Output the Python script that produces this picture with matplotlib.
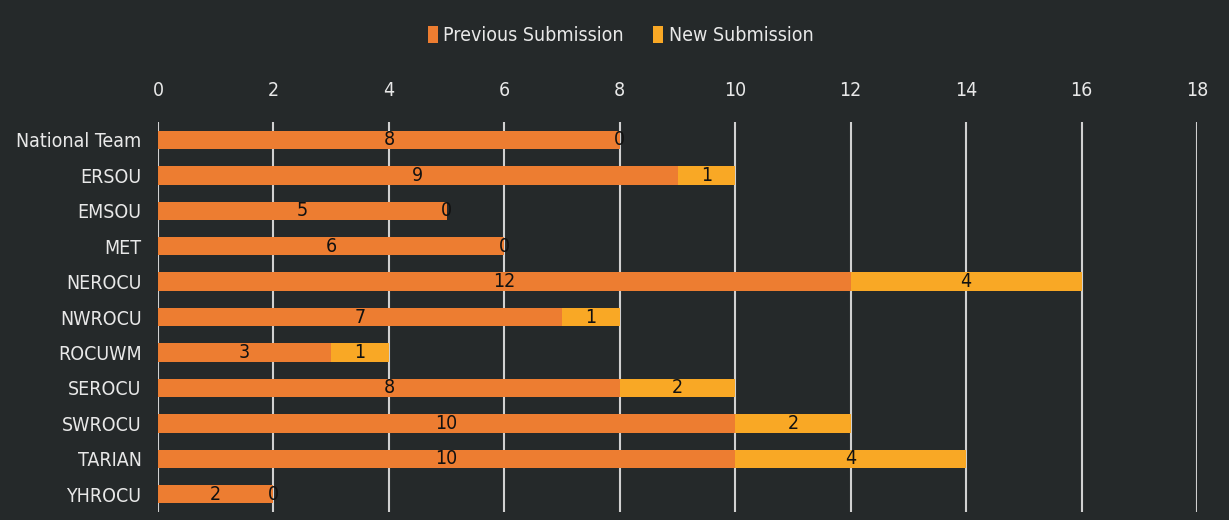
import matplotlib
matplotlib.use("Agg")
import matplotlib.pyplot as plt
import numpy as np

categories = ["National Team", "ERSOU", "EMSOU", "MET", "NEROCU", "NWROCU",
              "ROCUWM", "SEROCU", "SWROCU", "TARIAN", "YHROCU"]
previous = [8, 9, 5, 6, 12, 7, 3, 8, 10, 10, 2]
new = [0, 1, 0, 0, 4, 1, 1, 2, 2, 4, 0]
xticks = [0, 2, 4, 6, 8, 10, 12, 14, 16, 18]

bg = "#25292a"
c_prev = "#ED7D31"
c_new = "#F9A825"
txt = "#e8e8e8"

plt.rcParams['font.family'] = ['DejaVu Sans']
plt.rcParams['font.stretch'] = 'condensed'
plt.rcParams['font.size'] = 14

fig = plt.figure(figsize=(12.29, 5.2), dpi=100, facecolor=bg)
ax = fig.add_axes([0.1286, 0.0154, 0.8454, 0.7496], facecolor=bg)

y = np.arange(len(categories))
b1 = ax.barh(y, previous, height=0.52, color=c_prev, label="Previous Submission", zorder=3)
b2 = ax.barh(y, new, left=previous, height=0.52, color=c_new, label="New Submission", zorder=3)

for i in range(len(categories)):
    ax.text(previous[i] / 2, y[i], str(previous[i]), ha="center", va="center",
            color="#111111", fontsize=14, zorder=4)
    ax.text(previous[i] + new[i] / 2, y[i], str(new[i]), ha="center", va="center",
            color="#111111", fontsize=14, zorder=4)

ax.set_xlim(0, 18)
ax.set_ylim(len(categories) - 0.5, -0.5)
ax.set_xticks(xticks)
ax.set_yticks(y)
ax.set_yticklabels(categories)
ax.xaxis.tick_top()
ax.tick_params(axis="x", length=0, pad=16, colors=txt, labelsize=14)
ax.tick_params(axis="y", length=0, pad=12, colors=txt, labelsize=14)
ax.grid(axis="x", color="#d0d0d0", linewidth=1.5, zorder=1)
for s in ax.spines.values():
    s.set_visible(False)

leg = fig.legend(loc="center", bbox_to_anchor=(0.505, 0.932), ncol=2, frameon=False,
                 fontsize=14, handlelength=0.5, handleheight=1.0, handletextpad=0.3,
                 columnspacing=1.5, labelcolor=txt)

fig.savefig("out.png", dpi=100, facecolor=bg)
